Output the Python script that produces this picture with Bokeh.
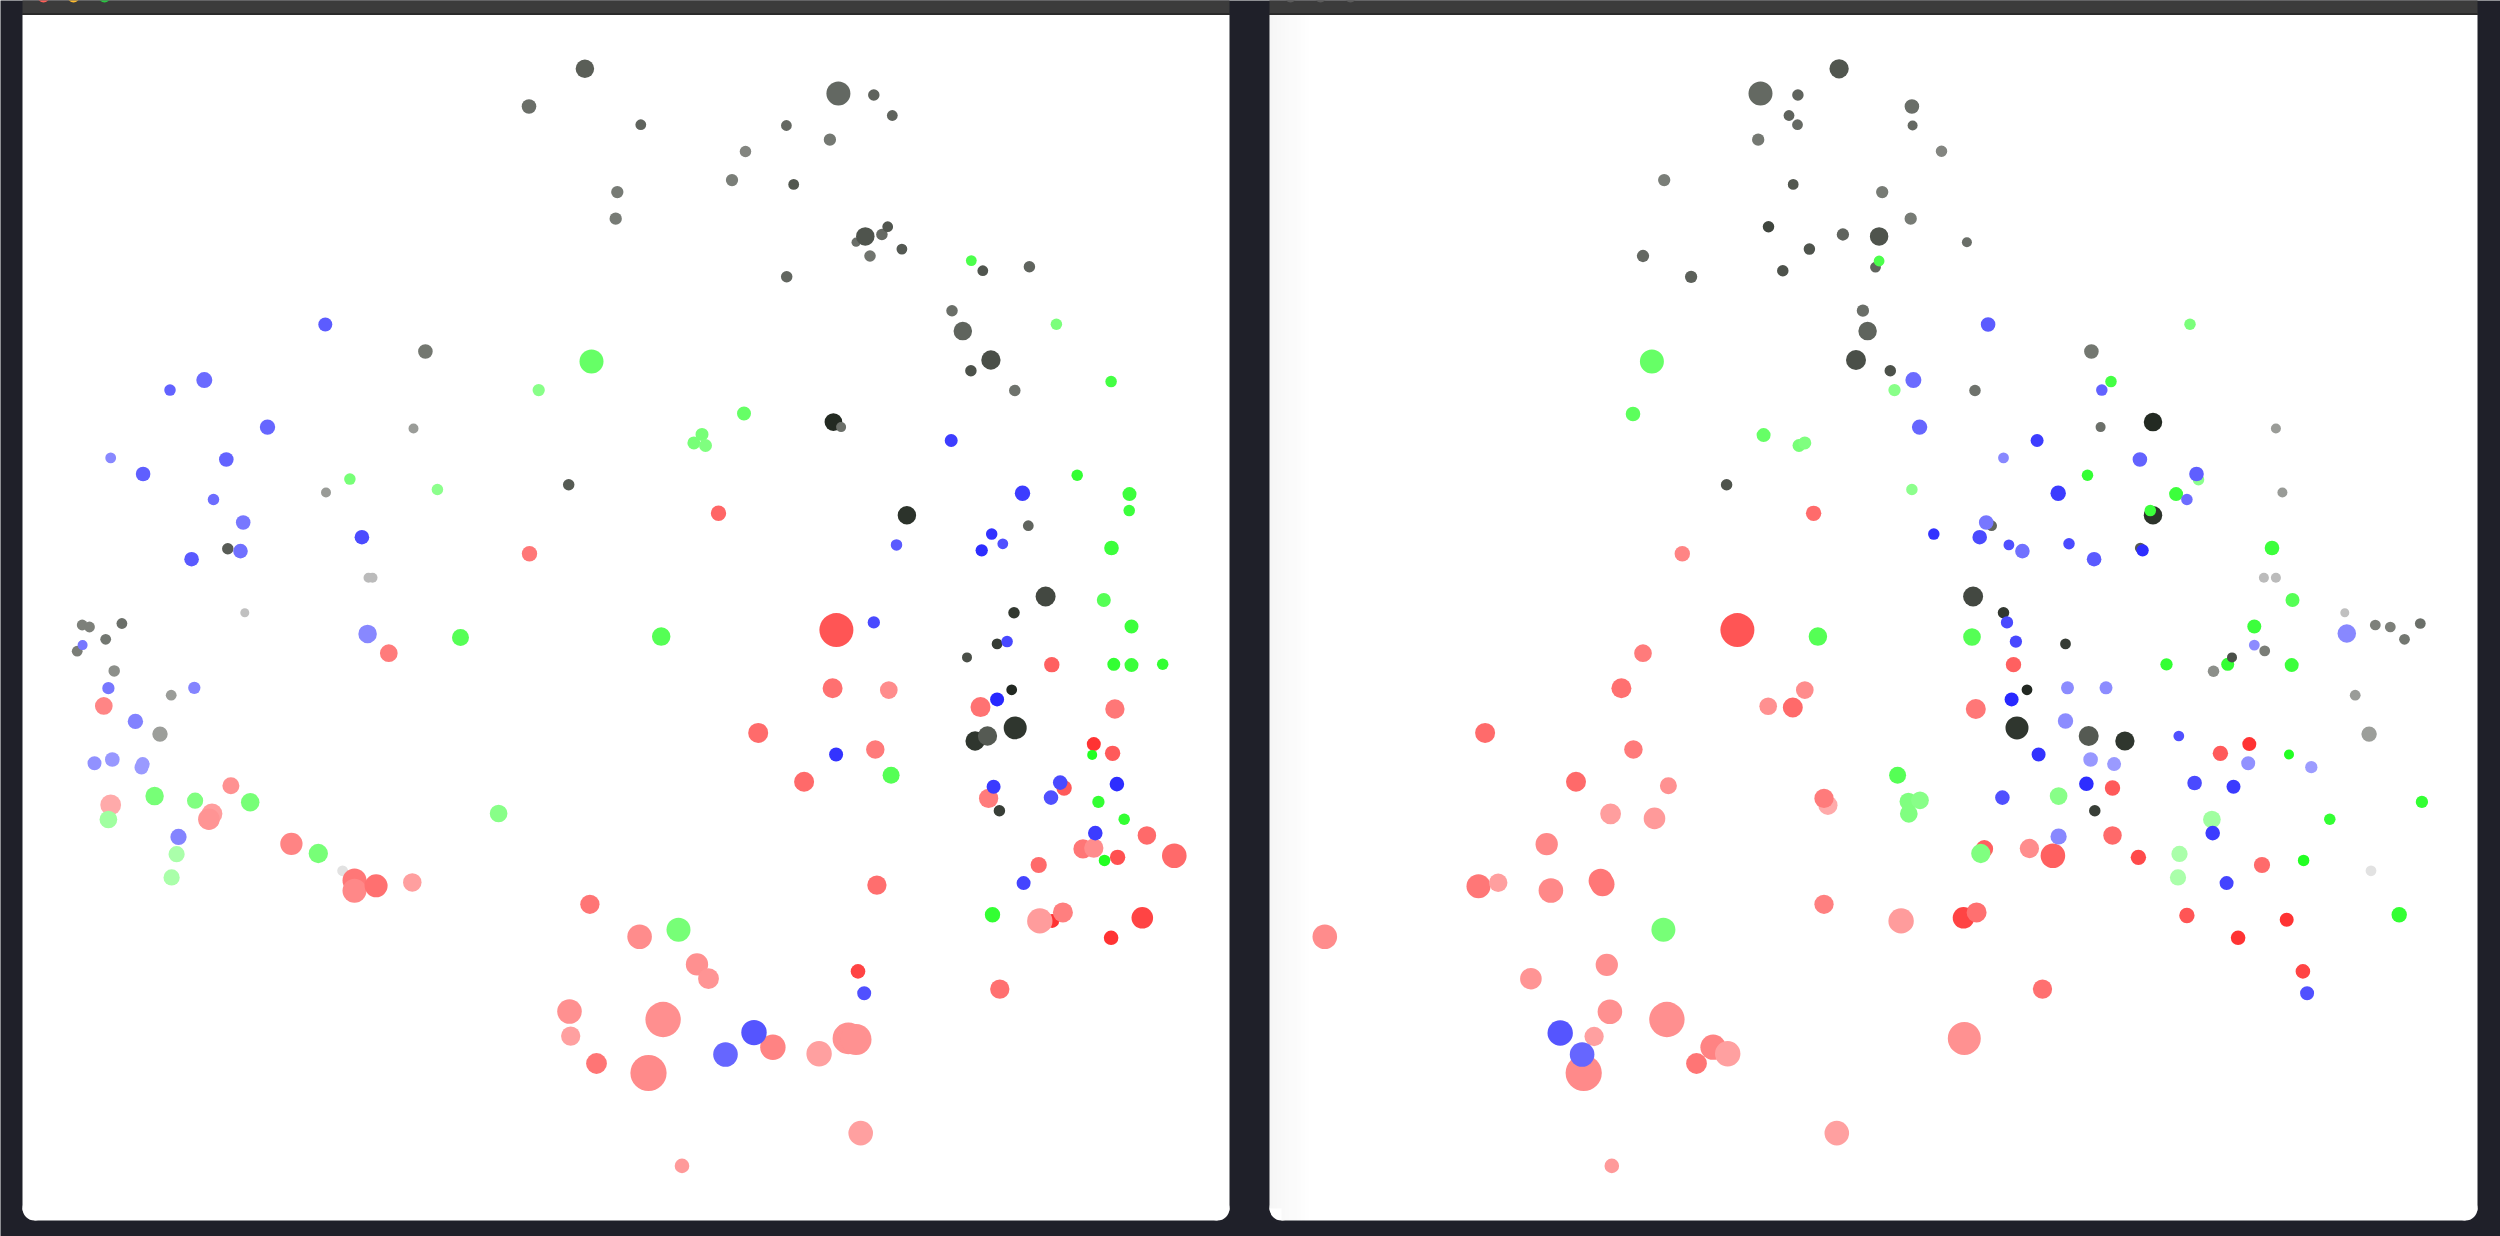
from bokeh.plotting import figure
from bokeh.models import Range1d, ColumnDataSource
from bokeh.embed import file_html
from bokeh.resources import INLINE

# ---------------- data: (x, y, size, colour) per point, in screen units of the page ----------------
left_gray = [
    (584.4, 68.3, 18.5, "#5a5e57"), (528.5, 106, 14.6, "#6a6e68"), (616.8, 191.6, 12.3, "#777b75"),
    (615.2, 218.2, 12.3, "#777b75"), (424.9, 351, 14.6, "#737770"), (413, 428, 10, "#9a9c98"),
    (325.5, 492, 10, "#999b97"), (568.2, 484.3, 11.5, "#565b54"), (227.3, 548.3, 11.5, "#585c56"),
    (368, 577.3, 10, "#bbbbbb"), (372, 577.3, 10, "#bbbbbb"), (244.3, 612.2, 9, "#c0c0c0"),
    (640.3, 124.2, 10.8, "#5f635d"), (837.9, 93, 24, "#636862"), (873.3, 94.5, 11.5, "#5f635d"),
    (891.8, 115, 10.8, "#5f635d"), (785.9, 125, 10.8, "#646862"), (829.4, 139.2, 12.3, "#747872"),
    (745, 151, 11.5, "#838580"), (731.5, 179.6, 12.3, "#7a7e78"), (793.2, 183.9, 10.8, "#535850"),
    (855.6, 241.7, 9.2, "#6a6e68"), (864.8, 235.9, 18.5, "#4f544d"), (881.4, 234, 11.5, "#666a64"),
    (887.2, 226.2, 10.8, "#51564f"), (869.5, 255.5, 11.5, "#70746e"), (901.4, 248.6, 10.8, "#545953"),
    (786.2, 276.3, 11.5, "#626660"), (982.3, 270.2, 10.8, "#50554e"), (1028.9, 266.3, 11.5, "#60645e"),
    (951.5, 310.2, 11.5, "#6a6e68"), (962.3, 330.6, 18.5, "#5f645d"), (990.4, 359.5, 19.3, "#4a4f48"),
    (970.4, 370.3, 11.5, "#4c514a"), (1014.3, 390, 11.5, "#6e726c"), (832.9, 421.6, 17.7, "#232a22"),
    (840.6, 426.6, 10, "#6b6f69"), (906.4, 514.8, 18.5, "#2c332b"), (1027.8, 525.2, 10.8, "#60645e"),
    (1045.1, 596, 20, "#434841"), (1013.5, 612.2, 11.5, "#323830"),
    (81.7, 624.5, 10.8, "#7d807a"), (89, 626.5, 10.8, "#7d807a"), (121.4, 623, 10.8, "#6b6f69"),
    (105.2, 638.8, 10.8, "#737771"), (76.7, 650.7, 10.8, "#7a7d77"), (113.7, 670.4, 11.5, "#8c8f8a"),
    (170.7, 694.7, 10.8, "#9a9c98"), (159.5, 733.6, 15.4, "#9c9e9a"), (342.1, 870.3, 10.8, "#e2e2e2"),
    (996.6, 643.4, 10.8, "#363c35"), (966.5, 656.9, 10, "#4a4f48"), (1011.2, 689.3, 10.8, "#222822"),
    (1014.7, 727.4, 23, "#2f362e"), (974.6, 740.5, 19.3, "#2f362e"), (987, 735.5, 19.3, "#555a53"),
    (998.9, 810.2, 11.5, "#383e37"),
]

left_red = [
    (529, 553.3, 15.4, "#ff7777"), (718, 512.8, 15.4, "#ff6666"), (388.3, 652.7, 17.7, "#ff7b7b"),
    (103.3, 705.4, 17.7, "#ff8585"), (230.4, 785.2, 17, "#ff9191"), (110.2, 804.4, 20.8, "#ffaaaa"),
    (211.5, 813.3, 20.8, "#ff9e9e"), (208.4, 818.7, 21.6, "#ff9494"), (290.9, 843.3, 22.3, "#ff8484"),
    (354, 880, 24, "#ff7777"), (354, 890.3, 24, "#ff8888"), (375.6, 885.3, 23, "#ff7070"),
    (411.8, 881.9, 18.5, "#ff9f9f"), (589.4, 903.8, 19.3, "#ff7575"), (569, 1011, 24.6, "#ff9090"),
    (570.2, 1035.6, 19.3, "#ffa0a0"), (596, 1063, 20.8, "#ff7575"), (835.9, 629.6, 34, "#ff5555"),
    (1051.3, 664.2, 15.4, "#ff6060"), (832.1, 687.7, 20, "#ff7070"), (888.3, 689.6, 17.7, "#ff8c8c"),
    (980, 706.6, 20, "#ff7272"), (1114.4, 708.5, 19.3, "#ff7777"), (757.7, 732.4, 20, "#ff6b6b"),
    (1093.3, 743.6, 14, "#ff3333"), (1112.1, 752.8, 15.4, "#ff5a5a"), (874.8, 749, 18.5, "#ff7a7a"),
    (803.6, 781.3, 20, "#ff6a6a"), (988.1, 797.9, 19.3, "#ff7b7b"), (1063.6, 787.5, 15.4, "#ff5a5a"),
    (1146.4, 834.9, 18.5, "#ff6a6a"), (1082.5, 848.4, 19.3, "#ff7676"), (1093.3, 847.6, 19.3, "#ff8d8d"),
    (1117.1, 856.8, 15.4, "#ff5050"), (1173.8, 855.3, 24.6, "#ff6a6a"), (1038.2, 864.5, 16.2, "#ff6b6b"),
    (876.4, 884.6, 19.3, "#ff6e6e"), (1051.7, 920.4, 14, "#ff3333"), (1039.3, 920.4, 25.4, "#ff9c9c"),
    (1062.4, 911.9, 20, "#ff7f7f"), (1141.8, 917.3, 21.6, "#ff4444"), (1110.6, 937.3, 14.6, "#ff3333"),
    (639.1, 936.2, 24.6, "#ff8c8c"), (696.5, 963.9, 22.3, "#ff9090"), (708, 978.2, 20.8, "#ff9494"),
    (857.5, 970.9, 14.6, "#ff4444"), (999.3, 988.6, 19.3, "#ff7070"), (662.6, 1019, 35.4, "#ff8f8f"),
    (772.4, 1046.7, 25.4, "#ff8383"), (818.6, 1053.3, 25.4, "#ffa0a0"), (847.9, 1037.9, 31.6, "#ff9191"),
    (855.6, 1039, 30.8, "#ff9191"), (648, 1072.5, 36.2, "#ff8a8a"), (860.2, 1132.6, 24.6, "#ffa0a0"),
    (681.5, 1165.4, 14.6, "#ff9a9a"),
]

left_green = [
    (591, 361, 24, "#66ff66"), (538.2, 389.6, 12.3, "#88ff88"), (349.4, 478.6, 11.5, "#77ff77"),
    (436.9, 489, 11.5, "#8cff8c"), (970.8, 260.1, 10.8, "#4cff4c"), (1055.9, 323.7, 11.5, "#7cff7c"),
    (1110.6, 381.1, 11.5, "#44ff44"), (743.5, 413, 14, "#66ff66"), (701.5, 433.9, 13, "#77ff77"),
    (693.4, 442.4, 13, "#77ff77"), (705, 445, 13, "#7fff7f"), (1076.7, 474.7, 11.5, "#33ff33"),
    (1129, 493.6, 14, "#3cff3c"), (1128.7, 510.1, 11.5, "#3cff3c"), (1111, 547.5, 14.6, "#3cff3c"),
    (1103.3, 599.5, 14, "#55ff55"), (460, 636.9, 17, "#55ff55"), (154.1, 795.6, 18.5, "#77ff77"),
    (194.6, 800.2, 16.2, "#80ff80"), (249.7, 801.7, 18.5, "#77ff77"), (107.9, 819, 17.7, "#a0ffa0"),
    (498.1, 813, 17.7, "#88ff88"), (176.1, 853.7, 16.2, "#aaffaa"), (171.1, 876.9, 16.2, "#aaffaa"),
    (317.8, 853, 19.3, "#77ff77"), (660.7, 636.1, 18.5, "#55ff55"), (1131, 626, 14, "#3cff3c"),
    (1113.3, 663.8, 13, "#33ff33"), (1131, 664.6, 14, "#3cff3c"), (1162.2, 663.8, 11.5, "#33ff33"),
    (1091.7, 754.4, 10, "#22ff22"), (890.6, 774.8, 17, "#55ff55"), (1097.9, 801.4, 12.3, "#33ff33"),
    (1123.7, 818.7, 11.5, "#33ff33"), (1104, 859.9, 11.5, "#22ff22"), (992, 914.2, 15.4, "#33ff33"),
    (678, 929.2, 24, "#77ff77"),
]

left_blue = [
    (324.8, 324, 14, "#5c5cff"), (203.8, 379.6, 16, "#6b6bff"), (169.5, 389.6, 11.5, "#6262ff"),
    (267, 426.6, 15.4, "#6666ff"), (110.2, 457.4, 10.8, "#8888ff"), (225.8, 459, 14.6, "#6363ff"),
    (142.6, 473.5, 14.6, "#5f5fff"), (213, 499, 11.5, "#6d6dff"), (242.7, 522, 14.6, "#7777ff"),
    (361.4, 536.7, 14.6, "#4b4bff"), (240, 550.6, 14.6, "#7070ff"), (191.1, 558.7, 14.6, "#5a5aff"),
    (950.7, 440, 13, "#3d3dff"), (1022, 492.8, 15.4, "#3c3cff"), (991.2, 533.6, 11.5, "#3333ff"),
    (1002.3, 543.3, 10.8, "#5050ff"), (981.2, 549.8, 12.3, "#2d2dff"), (896, 544.4, 11.5, "#5a5aff"),
    (82.1, 644.6, 10, "#7777ff"), (367.1, 633.4, 18.5, "#8888ff"), (107.9, 687.7, 12.3, "#7777ff"),
    (193.8, 687.3, 12.3, "#8484ff"), (134.9, 720.9, 15.4, "#8282ff"), (94, 762.8, 14, "#9191ff"),
    (111.8, 759, 14.6, "#9898ff"), (142.2, 763.6, 14, "#9a9aff"), (141, 767, 14, "#9a9aff"),
    (178, 836.4, 16.2, "#8484ff"), (873.3, 621.9, 12.3, "#4a4aff"), (1006.6, 641.1, 11.5, "#4848ff"),
    (996.6, 698.9, 14, "#2828ff"), (835.6, 754, 14, "#3333ff"), (993.1, 786.3, 14, "#3a3aff"),
    (1059.7, 782.1, 14.6, "#4a4aff"), (1050.5, 797.1, 14.6, "#5050ff"), (1116.4, 783.6, 14.6, "#2d2dff"),
    (1094.8, 832.6, 14.6, "#3c3cff"), (1023.1, 882.6, 14, "#4444ff"), (863.7, 992.8, 14, "#5050ff"),
    (753.5, 1032.1, 25.4, "#5555ff"), (725, 1054, 24.6, "#6666ff"),
]

right_gray = [
    (1838.6, 68.3, 19.3, "#51564f"), (1760, 93, 24, "#646962"), (1797.4, 94.5, 11.5, "#5f635d"),
    (1788.5, 115, 10.8, "#5f635d"), (1797, 124.2, 10.8, "#666a64"), (1757.7, 139.2, 12.3, "#747872"),
    (1663.7, 179.6, 12.3, "#7a7e78"), (1792.7, 183.9, 10.8, "#535850"), (1768, 226.2, 11.5, "#3f453e"),
    (1842.4, 234, 12.3, "#60645e"), (1808.9, 248.6, 11.5, "#4f544d"), (1878.6, 235.9, 18.5, "#4f544d"),
    (1642.5, 255.5, 12.3, "#646862"), (1690.6, 276.3, 12.3, "#5c605a"), (1782.3, 270.2, 11.5, "#4d524b"),
    (1862.4, 310.2, 12.3, "#6a6e68"), (1867.1, 330.6, 18.5, "#5f645d"), (1855.5, 359.5, 20, "#4a4f48"),
    (1726.1, 484.3, 11.5, "#4f544d"), (1875, 266.7, 10.8, "#60645e"), (1911.4, 106, 14.6, "#6a6e68"),
    (1912.1, 125, 10, "#646862"), (1941, 150.7, 11.5, "#838580"), (1881.7, 191.6, 12.3, "#777b75"),
    (1910.2, 218.2, 12.3, "#777b75"), (1966.4, 241.7, 10, "#6a6e68"), (2090.9, 351, 14.6, "#737770"),
    (1889.8, 370.3, 11.5, "#4c514a"), (1974.5, 390, 11.5, "#6e726c"), (2152.5, 421.6, 18.5, "#232a22"),
    (2100.1, 426.6, 10, "#6b6f69"), (2275.4, 428, 10, "#9a9c98"), (2281.9, 492, 10, "#999b97"),
    (2152.5, 514.8, 18.5, "#2c332b"), (1991.1, 525.2, 10.8, "#60645e"), (2139.8, 547.5, 10.8, "#555a53"),
    (2263.4, 577.3, 10, "#bbbbbb"), (2275.4, 577.3, 10, "#bbbbbb"), (1972.6, 596, 20, "#434841"),
    (2003, 612.2, 11.5, "#323830"), (2344.3, 612.2, 9, "#c0c0c0"), (2065, 643.4, 10.8, "#363c35"),
    (2026.5, 689.3, 10.8, "#222822"), (2016.5, 727.4, 23, "#2f362e"), (2088.2, 735.5, 20, "#555a53"),
    (2124.4, 740.5, 19.3, "#2f362e"), (2094.3, 810.2, 11.5, "#383e37"), (2374.8, 624.5, 10.8, "#7d807a"),
    (2389.8, 626.5, 10.8, "#7d807a"), (2419.8, 623, 10.8, "#6b6f69"), (2404, 638.8, 10.8, "#737771"),
    (2264.2, 650.4, 10.8, "#7a7d77"), (2213, 670.8, 11.5, "#8c8f8a"), (2354.7, 694.7, 10.8, "#9a9c98"),
    (2368.6, 733.6, 15.4, "#9c9e9a"), (2370.5, 870.3, 10.8, "#e2e2e2"),
]

right_red = [
    (1813.1, 512.8, 15.4, "#ff6b6b"), (1681.8, 553.3, 15.4, "#ff8484"), (1736.9, 629.6, 34, "#ff5555"),
    (1642.5, 652.7, 17.7, "#ff7b7b"), (1620.9, 687.7, 20, "#ff7070"), (1804.3, 689.6, 17.7, "#ff8c8c"),
    (1767.7, 705.8, 17.7, "#ff9090"), (1792.3, 707, 20, "#ff6a6a"), (1484.6, 732.4, 20, "#ff6b6b"),
    (1632.9, 749, 18.5, "#ff7a7a"), (1575.5, 781.3, 20, "#ff6a6a"), (1667.9, 785.2, 17, "#ff9191"),
    (1827.4, 804.8, 19.3, "#ffaaaa"), (1823.5, 797.9, 19.3, "#ff7b7b"), (1610.1, 813.3, 20.8, "#ff9e9e"),
    (1654, 817.9, 21.6, "#ff9a9a"), (1546.2, 843.7, 22.3, "#ff8888"), (1478, 885.7, 24, "#ff7777"),
    (1497.7, 882.3, 18.5, "#ff9f9f"), (1550.4, 890, 24.6, "#ff8888"), (1600.1, 880.3, 24, "#ff7777"),
    (1602, 883.8, 24, "#ff7777"), (1823.5, 903.8, 19.3, "#ff8080"), (1324.3, 936.2, 24.6, "#ff8c8c"),
    (1606.3, 964.3, 22.3, "#ff9090"), (1530.4, 978.2, 21.6, "#ff9494"), (1609.4, 1011.3, 24.6, "#ff9090"),
    (1666.4, 1019, 35.4, "#ff8f8f"), (1593.6, 1036, 19.3, "#ffa0a0"), (1583.2, 1072.5, 36.2, "#ff8a8a"),
    (1712.6, 1046.7, 25.4, "#ff8383"), (1727.2, 1053.3, 25.4, "#ffa0a0"), (1696, 1063, 20.8, "#ff7575"),
    (1836.3, 1132.6, 24.6, "#ffa0a0"), (1611.3, 1165.4, 14.6, "#ff9a9a"), (2013, 664.2, 15.4, "#ff6060"),
    (1975.3, 708.5, 20, "#ff7777"), (2219.9, 752.8, 15.4, "#ff5a5a"), (2248.8, 743.6, 14, "#ff3333"),
    (2112, 787.5, 15.4, "#ff5a5a"), (1983.8, 848.4, 17.7, "#ff6060"), (2028.9, 848, 19.3, "#ff8d8d"),
    (2052.4, 855.3, 24.6, "#ff6060"), (2112, 834.9, 18.5, "#ff6a6a"), (2137.9, 856.8, 15.4, "#ff4a4a"),
    (2261.5, 864.5, 16.2, "#ff6b6b"), (1900.6, 920.4, 25.4, "#ff9c9c"), (1963, 917.3, 21.6, "#ff4444"),
    (1976.1, 911.9, 20, "#ff7070"), (2186.4, 915, 15.4, "#ff5555"), (2286.2, 919.2, 14, "#ff3333"),
    (2237.6, 937.3, 14.6, "#ff3333"), (2302.4, 970.9, 14.6, "#ff4444"), (2042, 988.6, 19.3, "#ff7070"),
    (1963.8, 1037.9, 33, "#ff9191"),
]

right_green = [
    (1651.4, 361, 24, "#66ff66"), (1632.5, 413.5, 14.6, "#5cff5c"), (1763.1, 434.6, 14, "#66ff66"),
    (1798.5, 445, 13, "#77ff77"), (1804.3, 442.4, 13, "#7fff7f"), (1878.6, 260.5, 10.8, "#4cff4c"),
    (2189.5, 323.7, 11.5, "#7cff7c"), (1894, 389.6, 12.3, "#88ff88"), (2110.5, 381.1, 11.5, "#44ff44"),
    (2087, 474.7, 11.5, "#33ff33"), (2198, 479.3, 11.5, "#8cff8c"), (1911.4, 489, 11.5, "#8cff8c"),
    (2175.6, 493.6, 14, "#3cff3c"), (2149.8, 510.1, 11.5, "#3cff3c"), (2271.5, 547.5, 14.6, "#3cff3c"),
    (2292, 599.5, 14, "#55ff55"), (1817.4, 636.1, 18.5, "#55ff55"), (1971.5, 636.5, 17.7, "#55ff55"),
    (2253.8, 626, 14, "#3cff3c"), (2166, 663.8, 12.3, "#33ff33"), (2227.2, 663.8, 13, "#33ff33"),
    (2291.2, 664.6, 14, "#3cff3c"), (2288.5, 754, 10, "#22ff22"), (1897.1, 774.8, 17, "#55ff55"),
    (1907.9, 801, 17.7, "#80ff80"), (1919.5, 799.8, 17.7, "#88ff88"), (1908.3, 813.3, 17.7, "#80ff80"),
    (2058.1, 795.6, 17.7, "#88ff88"), (2211.4, 819, 17.7, "#a0ffa0"), (2329.3, 818.7, 11.5, "#33ff33"),
    (2421.4, 801.4, 12.3, "#33ff33"), (1980.3, 853, 19.3, "#80ff80"), (2179, 853.4, 16.2, "#aaffaa"),
    (2177.5, 876.9, 16.2, "#aaffaa"), (2303.1, 859.9, 11.5, "#22ff22"), (2398.7, 914.2, 15.4, "#33ff33"),
    (1662.9, 929.2, 24, "#77ff77"),
]

right_blue = [
    (1987.6, 324, 14.6, "#5c5cff"), (1912.9, 379.6, 16, "#6b6bff"), (2101.3, 389.6, 11.5, "#6262ff"),
    (1919.1, 426.6, 15.4, "#6666ff"), (2036.6, 440, 13, "#3d3dff"), (2003, 457.4, 10.8, "#8888ff"),
    (2139.4, 459, 14.6, "#6363ff"), (2196, 473.5, 14.6, "#5f5fff"), (2057.7, 492.8, 15.4, "#3c3cff"),
    (2186.4, 499, 11.5, "#6d6dff"), (1985.7, 522, 14.6, "#7777ff"), (1933.3, 533.6, 11.5, "#3333ff"),
    (1979.2, 536.7, 14.6, "#4b4bff"), (2008.4, 544.4, 10.8, "#5050ff"), (2021.9, 550.6, 14.6, "#7070ff"),
    (2068.5, 543.3, 11.5, "#4a4aff"), (2093.6, 558.7, 14.6, "#5a5aff"), (2142.1, 549.8, 12.3, "#2d2dff"),
    (2006.5, 621.9, 12.3, "#4a4aff"), (2015.4, 641.1, 12.3, "#4848ff"), (2011.1, 698.9, 14, "#2828ff"),
    (2067, 687.3, 13, "#8c8cff"), (2105.5, 687.3, 13, "#8c8cff"), (2065, 720.5, 15.4, "#8c8cff"),
    (2038.1, 754, 14, "#3333ff"), (2090.1, 759, 14.6, "#9898ff"), (2113.6, 763.6, 14, "#9a9aff"),
    (2178.3, 735.5, 10.8, "#5050ff"), (2247.7, 762.8, 14, "#9191ff"), (2310.8, 766.7, 12.3, "#9c9cff"),
    (2085.9, 783.3, 14.6, "#2d2dff"), (2194.1, 782.5, 14.6, "#4a4aff"), (2233, 786.3, 14, "#3a3aff"),
    (2001.9, 797.1, 14.6, "#5050ff"), (2212.2, 832.6, 14.6, "#3c3cff"), (2058.1, 836, 16.2, "#8888ff"),
    (2226.1, 882.6, 14, "#4444ff"), (2306.6, 992.8, 14, "#5050ff"), (2346.3, 633, 18.5, "#8888ff"),
    (2253.8, 644.6, 10.8, "#8c8cff"), (1559.7, 1032.5, 25.4, "#5555ff"), (1581.6, 1054, 24.6, "#6666ff"),
]

right_dark_top = [
    (2231.5, 656.9, 10, "#4a4f48"),
]

# ---------------- figure: data units == page pixels ----------------
W, H = 2500, 1236
p = figure(width=W, height=H, x_range=Range1d(0, W), y_range=Range1d(H, 0),
           x_axis_type=None, y_axis_type=None, toolbar_location=None, title=None,
           output_backend="svg", min_border=0, outline_line_color=None,
           background_fill_color="#1f2029", border_fill_color="#1f2029")

# window panels
lefts = [22, 1269]
rights = [1229, 2477]
R = 12
BOT = 1220
p.quad(left=lefts, right=rights, top=[-2, -2], bottom=[14, 14], fill_color="#3c3c3c", line_color=None)
p.quad(left=lefts, right=rights, top=[12.5, 12.5], bottom=[14.5, 14.5], fill_color="#2a2a2a", line_color=None)
p.quad(left=lefts, right=rights, top=[14.5, 14.5], bottom=[BOT - R + 2, BOT - R + 2], fill_color="white", line_color=None)
p.quad(left=[l + R for l in lefts], right=[r - R for r in rights], top=[BOT - R] * 2, bottom=[BOT, BOT],
       fill_color="white", line_color=None)
p.circle(x=[lefts[0] + R, rights[0] - R, lefts[1] + R, rights[1] - R], y=[BOT - R] * 4, radius=R,
         fill_color="white", line_color=None)
# traffic lights (mostly cut off at the top edge)
p.circle(x=[43, 73, 104], y=[-4, -4, -4], radius=6, fill_color=["#ff5f57", "#febc2e", "#28c840"], line_color=None)
p.circle(x=[1290, 1320, 1350], y=[-4, -4, -4], radius=6, fill_color="#5a5a5a", line_color=None)
# faint inner shade on the left edge of the right window
for i in range(10):
    p.quad(left=[1269 + i * 4], right=[1269 + (i + 1) * 4], top=[14.5], bottom=[BOT - (R if i < 3 else 0)],
           fill_color="black", fill_alpha=0.035 * (10 - i) / 10, line_color=None)


def draw(points):
    src = ColumnDataSource(dict(x=[q[0] for q in points], y=[q[1] for q in points],
                                s=[q[2] for q in points], c=[q[3] for q in points]))
    p.scatter(x="x", y="y", size="s", fill_color="c", line_color=None, source=src)


for group in (left_gray, left_red, left_green, left_blue,
              right_gray, right_red, right_green, right_blue, right_dark_top):
    draw(group)

open("out.html", "w").write(file_html(p, INLINE))
